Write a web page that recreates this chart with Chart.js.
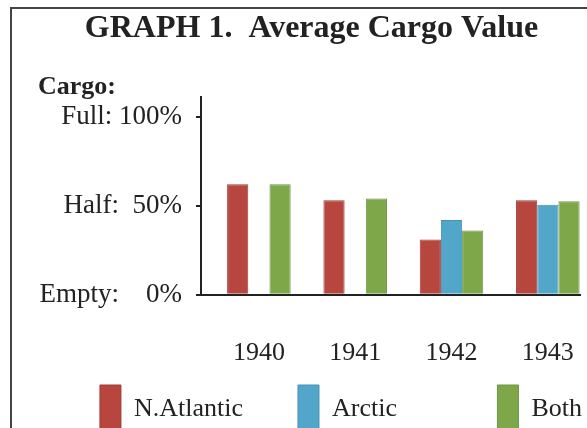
<!DOCTYPE html>
<html lang="en">
  <head>
    <meta charset="UTF-8" />
    <title>Average Cargo Value</title>
    <script src="https://cdn.jsdelivr.net/npm/chart.js"></script>
    <style>
      body {
        margin: 0;
        background: #fff;
        overflow: hidden;
      }
      /* printed frame round the graph */
      .frame {
        position: absolute;
        left: 10px;
        top: 7px;
        width: 620px;
        height: 480px;
        border-left: 2px solid #444;
        border-top: 2px solid #444;
      }
      .wrap {
        position: absolute;
        left: 0;
        top: 0;
      }
    </style>
  </head>
  <body>
    <div class="frame"></div>
    <div class="wrap">
      <canvas id="cargoChart" width="587" height="444"></canvas>
    </div>

    <script>
      // Years on the x axis
      const years = ["1940", "1941", "1942", "1943"];
      // Cargo value in % of full load
      const northAtlantic = [62, 53, 31, 53];
      const arctic = [null, null, 42, 50.5];
      const both = [62, 54, 36, 52.5];
      // y axis ticks and their labels
      const yTicks = [0, 50, 100];
      const yTickLabels = ["Empty:    0%", "Half:  50%", "Full: 100%"];
      const seriesNames = ["N.Atlantic", "Arctic", "Both"];

      const serif = "'Liberation Serif', 'Times New Roman', serif";
      const ink = "#222";
      // extra spaces after legend texts to spread the items like the print
      const legendPad = [8, 15, 0];

      new Chart(document.getElementById("cargoChart"), {
        type: "bar",
        data: {
          labels: years,
          datasets: [
            {
              label: seriesNames[0],
              data: northAtlantic,
              backgroundColor: "#b7463f",
              borderColor: "#a33b36",
              borderWidth: 1,
            },
            {
              label: seriesNames[1],
              data: arctic,
              backgroundColor: "#52a6c9",
              borderColor: "#4393b6",
              borderWidth: 1,
            },
            {
              label: seriesNames[2],
              data: both,
              backgroundColor: "#7ea74a",
              borderColor: "#6e963f",
              borderWidth: 1,
            },
          ],
        },
        options: {
          responsive: false,
          animation: false,
          layout: { padding: { left: 38, right: 2, top: 0, bottom: 0 } },
          datasets: {
            bar: { barPercentage: 1, categoryPercentage: 0.66 },
          },
          scales: {
            x: {
              type: "linear",
              offset: false,
              min: 1939.399,
              max: 1943.344,
              afterBuildTicks: (scale) => {
                scale.ticks = years.map((y) => ({ value: Number(y) }));
              },
              // tick marks hidden, but their length keeps the labels low
              grid: { display: false, drawTicks: true, tickLength: 30 },
              border: { display: true, color: ink, width: 2 },
              ticks: {
                callback: (v) => String(v),
                color: ink,
                padding: 13,
                font: { family: serif, size: 26 },
              },
            },
            y: {
              min: 0,
              max: 111,
              afterBuildTicks: (scale) => {
                scale.ticks = yTicks.map((v) => ({ value: v }));
              },
              afterFit: (scale) => {
                scale.width = 163;
              },
              grid: {
                drawOnChartArea: false,
                drawTicks: true,
                tickLength: 5,
                color: ink,
                lineWidth: 2,
              },
              border: { display: true, color: ink, width: 2 },
              ticks: {
                callback: (v) => yTickLabels[yTicks.indexOf(v)],
                color: ink,
                padding: 14,
                font: { family: serif, size: 27 },
              },
            },
          },
          plugins: {
            title: {
              display: true,
              text: "GRAPH 1.  Average Cargo Value",
              color: ink,
              padding: { top: 10, bottom: 0 },
              font: { family: serif, size: 32, weight: "bold" },
            },
            subtitle: {
              display: true,
              text: "Cargo:",
              align: "start",
              color: ink,
              padding: { top: 29, bottom: 0 },
              font: { family: serif, size: 26, weight: "bold", lineHeight: 0.75 },
            },
            legend: {
              position: "bottom",
              align: "end",
              labels: {
                color: ink,
                boxWidth: 21,
                boxHeight: 49,
                padding: 3,
                font: { family: serif, size: 26 },
                generateLabels: (chart) =>
                  Chart.defaults.plugins.legend.labels
                    .generateLabels(chart)
                    .map((item, i) => {
                      item.text = item.text + " ".repeat(legendPad[i]);
                      return item;
                    }),
              },
            },
            tooltip: { enabled: false },
          },
        },
      });
    </script>
  </body>
</html>
